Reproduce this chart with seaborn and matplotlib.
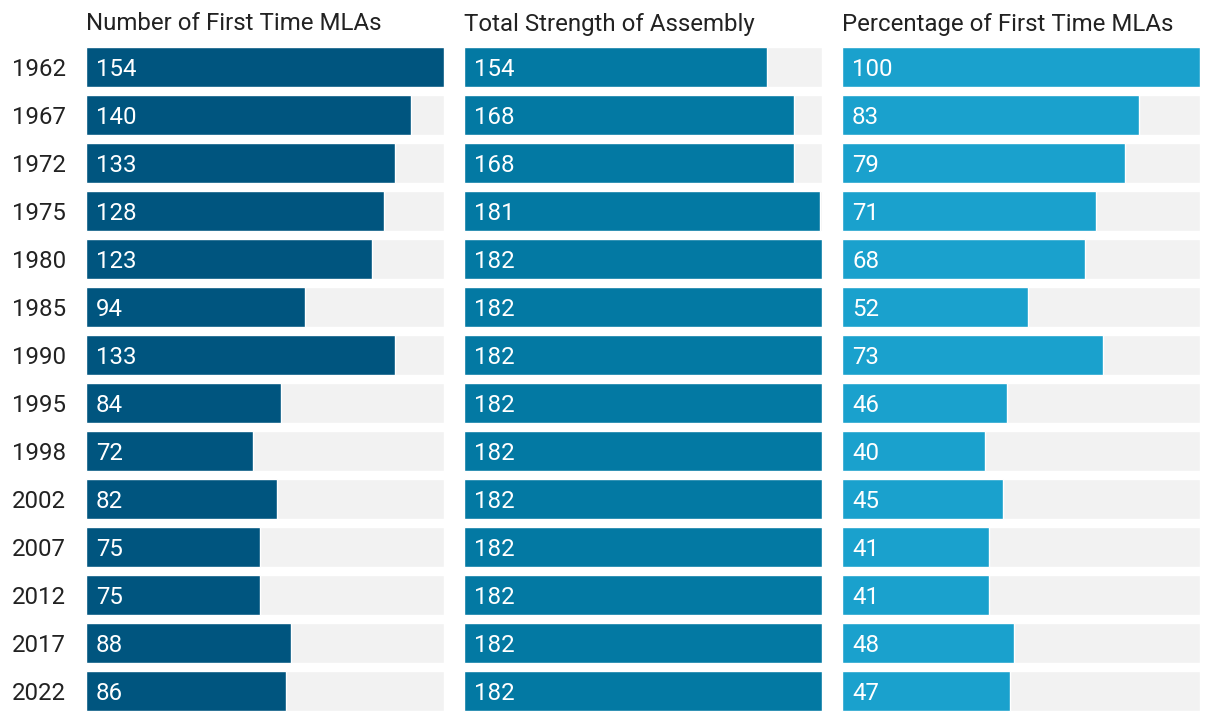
import matplotlib
matplotlib.use("Agg")
import matplotlib.pyplot as plt
import seaborn as sns
import pandas as pd

years = ["1962", "1967", "1972", "1975", "1980", "1985", "1990", "1995",
         "1998", "2002", "2007", "2012", "2017", "2022"]
first_time = [154, 140, 133, 128, 123, 94, 133, 84, 72, 82, 75, 75, 88, 86]
total_strength = [154, 168, 168, 181, 182, 182, 182, 182, 182, 182, 182, 182, 182, 182]
pct_first_time = [100, 83, 79, 71, 68, 52, 73, 46, 40, 45, 41, 41, 48, 47]

titles = ["Number of First Time MLAs", "Total Strength of Assembly", "Percentage of First Time MLAs"]
series = [first_time, total_strength, pct_first_time]
maxima = [154, 182, 100]
colors = ["#00557f", "#0379a3", "#1aa1cd"]
bg_color = "#f2f2f2"

sns.set_theme(style="white")
plt.rcParams["font.family"] = ["Roboto", "DejaVu Sans"]

W, H = 1220, 722
fig = plt.figure(figsize=(W / 100, H / 100), dpi=100)

lefts = [86, 464, 842]
panel_w = 358
top_px, bot_px = 43, 715
fs = 17.3

for i in range(3):
    ax = fig.add_axes([lefts[i] / W, 1 - bot_px / H, panel_w / W, (bot_px - top_px) / H])
    df = pd.DataFrame({"year": years, "value": series[i], "max": [maxima[i]] * len(years)})
    sns.barplot(data=df, x="max", y="year", color=bg_color, width=40 / 48,
                ax=ax, saturation=1, orient="h")
    sns.barplot(data=df, x="value", y="year", color=colors[i], width=40 / 48,
                ax=ax, saturation=1, orient="h")
    ax.set_xlim(0, maxima[i])
    ax.set_ylim(len(years) - 0.5, -0.5)
    ax.set_xlabel("")
    ax.set_ylabel("")
    ax.set_xticks([])
    for s in ax.spines.values():
        s.set_visible(False)
    if i == 0:
        ax.tick_params(axis="y", length=0, pad=14.4, labelsize=fs, labelcolor="#222222")
        for lbl in ax.get_yticklabels():
            lbl.set_fontfamily(["Roboto", "DejaVu Sans"])
    else:
        ax.set_yticks([])
    for j, v in enumerate(series[i]):
        ax.annotate(str(v), xy=(0, j), xytext=(10, 0), textcoords="offset pixels",
                    va="center_baseline", ha="left", color="white", fontsize=fs)
    fig.text(lefts[i] / W, 1 - 24 / H, titles[i], ha="left", va="center",
             fontsize=fs, color="#222222")

fig.savefig("out.png", dpi=100, facecolor="white")
